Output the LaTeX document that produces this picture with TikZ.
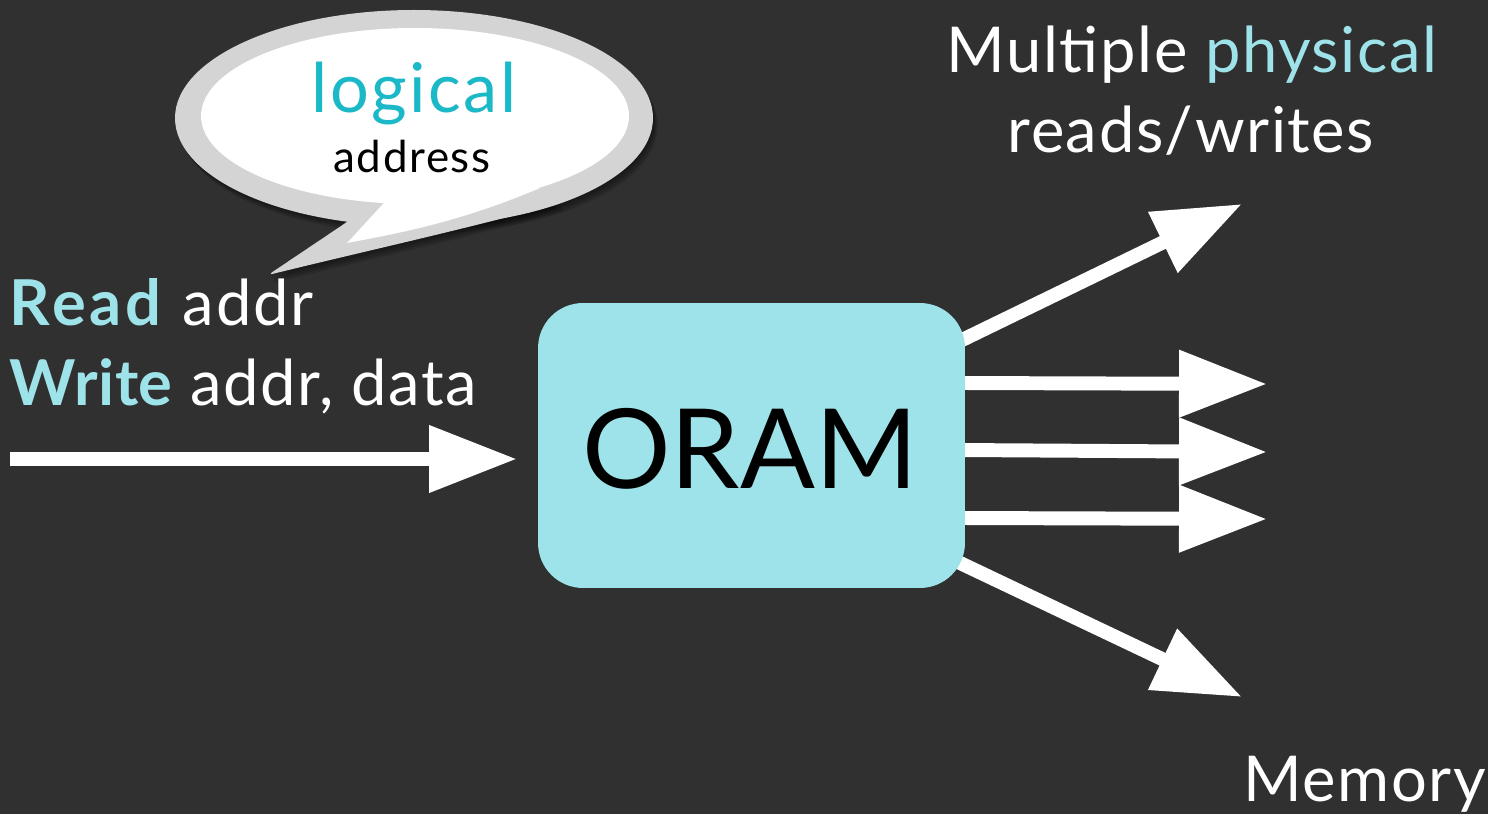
\documentclass[tikz,border=0pt]{standalone}
\usepackage{fontspec}
\setmainfont{Lato}
\usetikzlibrary{arrows.meta}
\definecolor{bgc}{RGB}{48,48,48}
\definecolor{oramc}{RGB}{158,227,233}
\definecolor{logicc}{RGB}{27,184,200}
\definecolor{ringc}{RGB}{212,212,212}
\begin{document}
\begin{tikzpicture}[x=0.02cm,y=-0.02cm,
  arr/.style={draw=white, line width=7.94pt, -{Triangle[length=1.76cm,width=1.28cm]}},
  txt/.style={inner sep=0pt, outer sep=0pt, text=white, anchor=base},
  bigtxt/.style={txt, font=\fontsize{36}{40}\selectfont\addfontfeatures{LetterSpace=2.5}},
  bubshadow/.style={fill=black, opacity=0.13},
]
\fill[bgc] (0,0) rectangle (1488,814);
\useasboundingbox (0,0) rectangle (1488,814);

% speech bubble shadow (soft, layered)
\foreach \d in {2,4,6,8}{
  \fill[bubshadow] (414+0.6*\d,118+\d) ellipse [x radius=239, y radius=108];
  \fill[bubshadow] (347+0.6*\d,222+\d) -- (268+0.6*\d,275+\d) .. controls (370+0.6*\d,250+\d) and (470+0.6*\d,228+\d) .. (560+0.6*\d,203+\d) -- (414,160) -- cycle;
}
% speech bubble
\fill[ringc] (414,118) ellipse [x radius=239, y radius=108];
\fill[ringc, rounded corners=3] (347,222) -- (268,275) .. controls (370,250) and (470,228) .. (560,203) -- (414,160) -- cycle;
\fill[white] (415,116) ellipse [x radius=214, y radius=88];
\fill[white] (383,204) -- (347,243) .. controls (400,233) and (460,222) .. (540,188) -- (415,150) -- cycle;
\node[txt, font=\fontsize{39}{44}\selectfont\addfontfeatures{LetterSpace=3.7}, text=logicc] (logical) at (414,113) {logical};
\node[txt, font=\fontsize{25}{30}\selectfont\addfontfeatures{LetterSpace=3.6}, text=black] (address) at (412,173) {address};

% coordinates
\coordinate (inS) at (10,459);
\coordinate (inE) at (517,459);
\coordinate (o1) at (960,341);
\coordinate (t1) at (1242,204);
\coordinate (o2) at (960,383);
\coordinate (t2) at (1267,384);
\coordinate (o3) at (960,450);
\coordinate (t3) at (1267,452);
\coordinate (o4) at (960,518);
\coordinate (t4) at (1267,519);
\coordinate (o5) at (958,562);
\coordinate (t5) at (1242,697);

\draw[arr] (inS) -- (inE);
\draw[arr] (o1) -- (t1);
\draw[arr] (o2) -- (t2);
\draw[arr] (o3) -- (t3);
\draw[arr] (o4) -- (t4);
\draw[arr] (o5) -- (t5);

% ORAM box
\node[fill=oramc, rounded corners=0.9cm, minimum width=8.54cm, minimum height=5.7cm, inner sep=0pt] (oram) at (751.5,445.5) {};
\node[txt, text=black, font=\fontsize{63}{68}\selectfont] (oramt) at (750,488) {ORAM};

% texts
\node[bigtxt] (title1) at (1192,73) {Multiple \textcolor{oramc}{physical}};
\node[bigtxt] (title2) at (1191,153) {reads/writes};
\node[bigtxt, anchor=base east] (memory) at (1486,801) {Memory};
\node[bigtxt, anchor=base west] (read) at (10,325) {\textcolor{oramc}{\bfseries\addfontfeatures{LetterSpace=6}Read}\hspace{2pt} addr};
\node[bigtxt, anchor=base west] (write) at (10,405) {\textcolor{oramc}{\bfseries\addfontfeatures{LetterSpace=1}Write} addr, data};
\end{tikzpicture}
\end{document}
